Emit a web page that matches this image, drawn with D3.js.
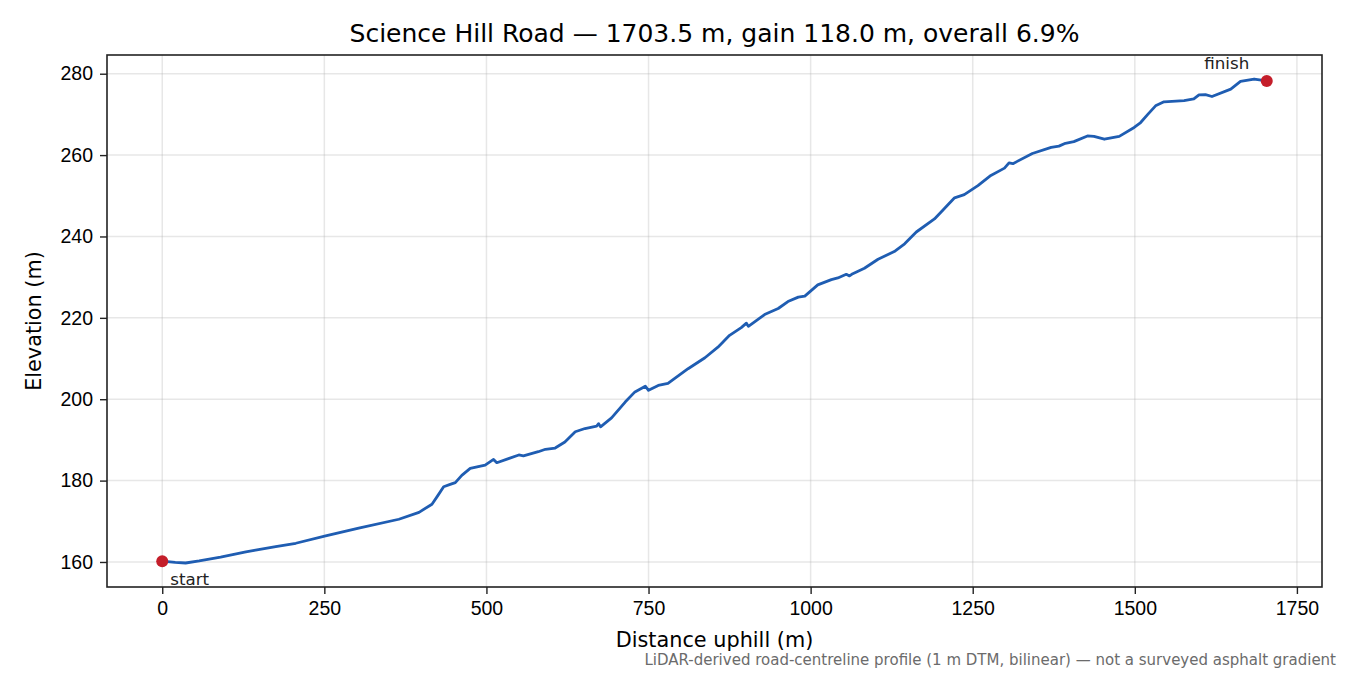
<!DOCTYPE html>
<html>
<head>
<meta charset="utf-8">
<script src="https://cdn.jsdelivr.net/npm/d3@7"></script>
<style>
  body { margin: 0; background: white; }
  svg { font-family: "DejaVu Sans", sans-serif; }
  .tick text { font-size: 19.5px; fill: #000; }
  .tick line { stroke: #222; stroke-width: 1.4px; }
  .domain { stroke: none; }
</style>
</head>
<body>
<div id="chart"></div>
<script>
let w = 1350;
let h = 675;
let margin = { top: 55, right: 28, bottom: 88, left: 107 };

// distance along the road (m)
const dist = [0, 20, 36, 57, 90, 129, 144, 175, 206, 252, 303, 365, 396, 416, 425, 434, 443, 452, 462, 475,
  498, 511, 516, 534, 550, 557, 580, 591, 606, 621, 637, 652, 670, 673, 676, 693, 714, 729, 745, 750,
  765, 780, 791, 811, 837, 857, 875, 893, 901, 904, 929, 950, 965, 981, 991, 1011, 1032, 1042, 1055, 1060,
  1065, 1083, 1104, 1129, 1145, 1163, 1191, 1206, 1222, 1237, 1258, 1278, 1299, 1306, 1312, 1342, 1371, 1383, 1393, 1406,
  1427, 1437, 1453, 1476, 1499, 1509, 1520, 1532, 1545, 1576, 1591, 1599, 1609, 1619, 1648, 1663, 1684, 1695, 1703.5];
// elevation (m)
const elev = [160.2, 159.9, 159.75, 160.25, 161.2, 162.5, 162.9, 163.8, 164.6, 166.4, 168.3, 170.5, 172.2, 174.2, 176.3, 178.5, 179.0, 179.5, 181.3, 183.0,
  183.8, 185.2, 184.4, 185.4, 186.3, 186.1, 187.1, 187.7, 188.0, 189.5, 192.0, 192.8, 193.4, 194.0, 193.2, 195.4, 199.3, 201.8, 203.2, 202.2,
  203.4, 203.9, 205.2, 207.5, 210.2, 212.8, 215.7, 217.6, 218.7, 217.9, 220.8, 222.3, 224.0, 225.1, 225.35, 228.1, 229.4, 229.8, 230.7, 230.3,
  230.85, 232.2, 234.4, 236.3, 238.2, 241.1, 244.3, 246.8, 249.5, 250.3, 252.5, 255.0, 256.8, 258.1, 257.9, 260.4, 261.9, 262.2, 262.9, 263.3,
  264.7, 264.6, 263.9, 264.6, 266.8, 268.0, 270.0, 272.1, 273.1, 273.4, 273.8, 274.8, 274.85, 274.4, 276.2, 278.1, 278.7, 278.4, 278.2];

const xTicks = [0, 250, 500, 750, 1000, 1250, 1500, 1750];
const yTicks = [160, 180, 200, 220, 240, 260, 280];
const endpoints = [
  { name: "start", d: 0, e: 160.2 },
  { name: "finish", d: 1703.5, e: 278.2 }
];

const titleText = "Science Hill Road \u2014 1703.5 m, gain 118.0 m, overall 6.9%";
const noteText = "LiDAR-derived road-centreline profile (1 m DTM, bilinear) \u2014 not a surveyed asphalt gradient";

const data = dist.map((d, i) => ({ d: d, e: elev[i] }));

const svg = d3.select("#chart")
              .append("svg")
              .attr("width", w)
              .attr("height", h)

const xScale = d3.scaleLinear()
                 .domain([-85.2, 1788.7])
                 .range([margin.left, w - margin.right])

const yScale = d3.scaleLinear()
                 .domain([153.85, 284.6])
                 .range([h - margin.bottom, margin.top])

// grid
svg.append("g")
   .selectAll("line")
   .data(xTicks)
   .enter()
   .append("line")
   .attr("x1", (d) => xScale(d))
   .attr("x2", (d) => xScale(d))
   .attr("y1", margin.top)
   .attr("y2", h - margin.bottom)
   .style("stroke", "#b0b0b0")
   .style("stroke-opacity", 0.3)
   .style("stroke-width", 1.5)

svg.append("g")
   .selectAll("line")
   .data(yTicks)
   .enter()
   .append("line")
   .attr("x1", margin.left)
   .attr("x2", w - margin.right)
   .attr("y1", (d) => yScale(d))
   .attr("y2", (d) => yScale(d))
   .style("stroke", "#b0b0b0")
   .style("stroke-opacity", 0.3)
   .style("stroke-width", 1.5)

const xAxis = d3.axisBottom(xScale)
                .tickValues(xTicks)
                .tickSize(7)
                .tickPadding(7)
                .tickFormat(d3.format("d"))

svg.append("g")
   .attr("transform", "translate(0," + (h - margin.bottom) + ")")
   .call(xAxis)

const yAxis = d3.axisLeft(yScale)
                .tickValues(yTicks)
                .tickSize(7)
                .tickPadding(7)
                .tickFormat(d3.format("d"))

svg.append("g")
   .attr("transform", "translate(" + margin.left + ",0)")
   .call(yAxis)

// profile line
const line = d3.line()
               .x((d) => xScale(d.d))
               .y((d) => yScale(d.e))

svg.append("path")
   .datum(data)
   .attr("d", line)
   .style("fill", "none")
   .style("stroke", "#1f5db2")
   .style("stroke-width", 2.8)
   .style("stroke-linejoin", "round")
   .style("stroke-linecap", "round")

svg.selectAll(".endpoint")
   .data(endpoints)
   .enter()
   .append("circle")
   .attr("class", "endpoint")
   .attr("cx", (d) => xScale(d.d))
   .attr("cy", (d) => yScale(d.e))
   .attr("r", 6)
   .style("fill", "#c41e2a")

svg.selectAll(".endlabel")
   .data(endpoints)
   .enter()
   .append("text")
   .attr("class", "endlabel")
   .attr("x", (d) => d.name === "start" ? xScale(d.d) + 8 : xScale(d.d) - 40)
   .attr("y", (d) => d.name === "start" ? yScale(d.e) + 24 : yScale(d.e) - 12)
   .attr("text-anchor", (d) => d.name === "start" ? "start" : "middle")
   .style("font-size", "16.7px")
   .style("fill", "#222")
   .text((d) => d.name)

// frame
svg.append("rect")
   .attr("x", margin.left)
   .attr("y", margin.top)
   .attr("width", w - margin.left - margin.right)
   .attr("height", h - margin.top - margin.bottom)
   .style("fill", "none")
   .style("stroke", "#222")
   .style("stroke-width", 1.6)

svg.append("text")
   .attr("x", (margin.left + w - margin.right) / 2)
   .attr("y", 42)
   .attr("text-anchor", "middle")
   .style("font-size", "25px")
   .text(titleText)

svg.append("text")
   .attr("x", (margin.left + w - margin.right) / 2)
   .attr("y", 647)
   .attr("text-anchor", "middle")
   .style("font-size", "20.8px")
   .text("Distance uphill (m)")

svg.append("text")
   .attr("transform", "translate(41," + ((margin.top + h - margin.bottom) / 2) + ") rotate(-90)")
   .attr("text-anchor", "middle")
   .style("font-size", "20.8px")
   .text("Elevation (m)")

svg.append("text")
   .attr("x", 1336)
   .attr("y", 665)
   .attr("text-anchor", "end")
   .style("font-size", "15px")
   .style("fill", "#6b6b6b")
   .text(noteText)
</script>
</body>
</html>
